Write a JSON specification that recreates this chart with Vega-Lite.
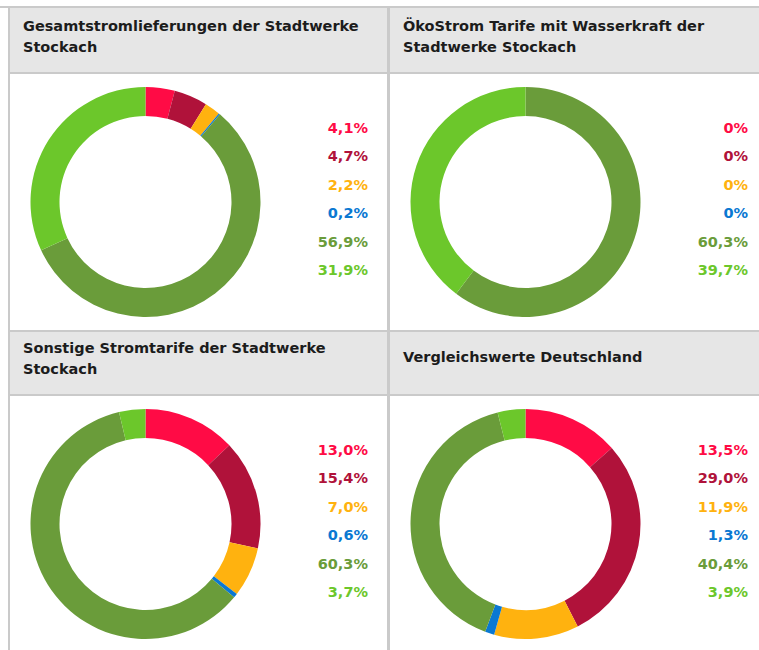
{
  "$schema": "https://vega.github.io/schema/vega-lite/v6.json",
  "background": "#cacaca",
  "padding": 0,
  "autosize": {"type": "pad"},
  "config": {
    "view": {"stroke": null},
    "font": "DejaVu Sans",
    "title": {"anchor": "start", "fontSize": 14.5, "fontWeight": "bold", "color": "#1c1c1c", "lineHeight": 21, "dx": 13}
  },
  "datasets": {
    "d": [
      {"p": 1, "o": 1, "k": "Kernkraft", "v": 4.1, "t": "4,1%"},
      {"p": 1, "o": 2, "k": "Kohle", "v": 4.7, "t": "4,7%"},
      {"p": 1, "o": 3, "k": "Erdgas", "v": 2.2, "t": "2,2%"},
      {"p": 1, "o": 4, "k": "Sonstige fossile Energieträger", "v": 0.2, "t": "0,2%"},
      {"p": 1, "o": 5, "k": "Erneuerbare Energien, gefördert nach EEG", "v": 56.9, "t": "56,9%"},
      {"p": 1, "o": 6, "k": "Sonstige erneuerbare Energien", "v": 31.9, "t": "31,9%"},
      {"p": 2, "o": 1, "k": "Kernkraft", "v": 0, "t": "0%"},
      {"p": 2, "o": 2, "k": "Kohle", "v": 0, "t": "0%"},
      {"p": 2, "o": 3, "k": "Erdgas", "v": 0, "t": "0%"},
      {"p": 2, "o": 4, "k": "Sonstige fossile Energieträger", "v": 0, "t": "0%"},
      {"p": 2, "o": 5, "k": "Erneuerbare Energien, gefördert nach EEG", "v": 60.3, "t": "60,3%"},
      {"p": 2, "o": 6, "k": "Sonstige erneuerbare Energien", "v": 39.7, "t": "39,7%"},
      {"p": 3, "o": 1, "k": "Kernkraft", "v": 13.0, "t": "13,0%"},
      {"p": 3, "o": 2, "k": "Kohle", "v": 15.4, "t": "15,4%"},
      {"p": 3, "o": 3, "k": "Erdgas", "v": 7.0, "t": "7,0%"},
      {"p": 3, "o": 4, "k": "Sonstige fossile Energieträger", "v": 0.6, "t": "0,6%"},
      {"p": 3, "o": 5, "k": "Erneuerbare Energien, gefördert nach EEG", "v": 60.3, "t": "60,3%"},
      {"p": 3, "o": 6, "k": "Sonstige erneuerbare Energien", "v": 3.7, "t": "3,7%"},
      {"p": 4, "o": 1, "k": "Kernkraft", "v": 13.5, "t": "13,5%"},
      {"p": 4, "o": 2, "k": "Kohle", "v": 29.0, "t": "29,0%"},
      {"p": 4, "o": 3, "k": "Erdgas", "v": 11.9, "t": "11,9%"},
      {"p": 4, "o": 4, "k": "Sonstige fossile Energieträger", "v": 1.3, "t": "1,3%"},
      {"p": 4, "o": 5, "k": "Erneuerbare Energien, gefördert nach EEG", "v": 40.4, "t": "40,4%"},
      {"p": 4, "o": 6, "k": "Sonstige erneuerbare Energien", "v": 3.9, "t": "3,9%"}
    ]
  },
  "spacing": 2,
  "vconcat": [
    {
      "width": 762, "height": 6,
      "data": {"values": []},
      "mark": "rect", "encoding": {},
      "view": {"fill": "white"}
    },
    {
      "spacing": 2,
      "hconcat": [
        {
          "width": 8, "height": 644,
          "data": {"values": []},
          "mark": "rect", "encoding": {},
          "view": {"fill": "white"}
        },
        {
          "spacing": 2,
          "vconcat": [
            {
              "spacing": 3,
              "hconcat": [
                {
                  "spacing": 2,
                  "vconcat": [
                    {
                      "width": 377, "height": 64,
                      "data": {"values": []},
                      "mark": "rect", "encoding": {},
                      "view": {"fill": "#e6e6e6"},
                      "title": {"text": ["Gesamtstromlieferungen der Stadtwerke", "Stockach"], "offset": -47}
                    },
                    {
                      "spacing": 0,
                      "hconcat": [
                        {
                          "width": 271, "height": 256,
                          "view": {"fill": "white"},
                          "data": {"name": "d"},
                          "transform": [{"filter": "datum.p == 1"}],
                          "mark": {"type": "arc", "innerRadius": 86, "outerRadius": 115},
                          "encoding": {
                            "theta": {"field": "v", "type": "quantitative", "stack": true},
                            "order": {"field": "o", "type": "quantitative"},
                            "color": {"field": "k", "type": "nominal", "legend": null, "scale": {"domain": ["Kernkraft", "Kohle", "Erdgas", "Sonstige fossile Energieträger", "Erneuerbare Energien, gefördert nach EEG", "Sonstige erneuerbare Energien"], "range": ["#ff0b45", "#b0123a", "#ffb20f", "#0a78d2", "#6a9c3a", "#6cc72b"]}}
                          }
                        },
                        {
                          "width": 106, "height": 256,
                          "view": {"fill": "white"},
                          "data": {"name": "d"},
                          "transform": [{"filter": "datum.p == 1"}],
                          "mark": {"type": "text", "align": "right", "baseline": "middle", "fontSize": 14.5, "fontWeight": "bold", "dx": -19, "dy": -2},
                          "encoding": {
                            "x": {"value": "width"},
                            "y": {"field": "k", "type": "nominal", "axis": null, "scale": {"type": "point", "padding": 1, "domain": ["_oben", "Kernkraft", "Kohle", "Erdgas", "Sonstige fossile Energieträger", "Erneuerbare Energien, gefördert nach EEG", "Sonstige erneuerbare Energien", "_unten"]}},
                            "text": {"field": "t"},
                            "color": {"field": "k", "type": "nominal", "legend": null, "scale": {"domain": ["Kernkraft", "Kohle", "Erdgas", "Sonstige fossile Energieträger", "Erneuerbare Energien, gefördert nach EEG", "Sonstige erneuerbare Energien"], "range": ["#ff0b45", "#b0123a", "#ffb20f", "#0a78d2", "#6a9c3a", "#6cc72b"]}}
                          }
                        }
                      ]
                    }
                  ]
                },
                {
                  "spacing": 2,
                  "vconcat": [
                    {
                      "width": 372, "height": 64,
                      "data": {"values": []},
                      "mark": "rect", "encoding": {},
                      "view": {"fill": "#e6e6e6"},
                      "title": {"text": ["ÖkoStrom Tarife mit Wasserkraft der", "Stadtwerke Stockach"], "offset": -47}
                    },
                    {
                      "spacing": 0,
                      "hconcat": [
                        {
                          "width": 271, "height": 256,
                          "view": {"fill": "white"},
                          "data": {"name": "d"},
                          "transform": [{"filter": "datum.p == 2"}],
                          "mark": {"type": "arc", "innerRadius": 86, "outerRadius": 115},
                          "encoding": {
                            "theta": {"field": "v", "type": "quantitative", "stack": true},
                            "order": {"field": "o", "type": "quantitative"},
                            "color": {"field": "k", "type": "nominal", "legend": null, "scale": {"domain": ["Kernkraft", "Kohle", "Erdgas", "Sonstige fossile Energieträger", "Erneuerbare Energien, gefördert nach EEG", "Sonstige erneuerbare Energien"], "range": ["#ff0b45", "#b0123a", "#ffb20f", "#0a78d2", "#6a9c3a", "#6cc72b"]}}
                          }
                        },
                        {
                          "width": 101, "height": 256,
                          "view": {"fill": "white"},
                          "data": {"name": "d"},
                          "transform": [{"filter": "datum.p == 2"}],
                          "mark": {"type": "text", "align": "right", "baseline": "middle", "fontSize": 14.5, "fontWeight": "bold", "dx": -14, "dy": -2},
                          "encoding": {
                            "x": {"value": "width"},
                            "y": {"field": "k", "type": "nominal", "axis": null, "scale": {"type": "point", "padding": 1, "domain": ["_oben", "Kernkraft", "Kohle", "Erdgas", "Sonstige fossile Energieträger", "Erneuerbare Energien, gefördert nach EEG", "Sonstige erneuerbare Energien", "_unten"]}},
                            "text": {"field": "t"},
                            "color": {"field": "k", "type": "nominal", "legend": null, "scale": {"domain": ["Kernkraft", "Kohle", "Erdgas", "Sonstige fossile Energieträger", "Erneuerbare Energien, gefördert nach EEG", "Sonstige erneuerbare Energien"], "range": ["#ff0b45", "#b0123a", "#ffb20f", "#0a78d2", "#6a9c3a", "#6cc72b"]}}
                          }
                        }
                      ]
                    }
                  ]
                }
              ]
            },
            {
              "spacing": 3,
              "hconcat": [
                {
                  "spacing": 2,
                  "vconcat": [
                    {
                      "width": 377, "height": 62,
                      "data": {"values": []},
                      "mark": "rect", "encoding": {},
                      "view": {"fill": "#e6e6e6"},
                      "title": {"text": ["Sonstige Stromtarife der Stadtwerke", "Stockach"], "offset": -45}
                    },
                    {
                      "spacing": 0,
                      "hconcat": [
                        {
                          "width": 271, "height": 256,
                          "view": {"fill": "white"},
                          "data": {"name": "d"},
                          "transform": [{"filter": "datum.p == 3"}],
                          "mark": {"type": "arc", "innerRadius": 86, "outerRadius": 115},
                          "encoding": {
                            "theta": {"field": "v", "type": "quantitative", "stack": true},
                            "order": {"field": "o", "type": "quantitative"},
                            "color": {"field": "k", "type": "nominal", "legend": null, "scale": {"domain": ["Kernkraft", "Kohle", "Erdgas", "Sonstige fossile Energieträger", "Erneuerbare Energien, gefördert nach EEG", "Sonstige erneuerbare Energien"], "range": ["#ff0b45", "#b0123a", "#ffb20f", "#0a78d2", "#6a9c3a", "#6cc72b"]}}
                          }
                        },
                        {
                          "width": 106, "height": 256,
                          "view": {"fill": "white"},
                          "data": {"name": "d"},
                          "transform": [{"filter": "datum.p == 3"}],
                          "mark": {"type": "text", "align": "right", "baseline": "middle", "fontSize": 14.5, "fontWeight": "bold", "dx": -19, "dy": -2},
                          "encoding": {
                            "x": {"value": "width"},
                            "y": {"field": "k", "type": "nominal", "axis": null, "scale": {"type": "point", "padding": 1, "domain": ["_oben", "Kernkraft", "Kohle", "Erdgas", "Sonstige fossile Energieträger", "Erneuerbare Energien, gefördert nach EEG", "Sonstige erneuerbare Energien", "_unten"]}},
                            "text": {"field": "t"},
                            "color": {"field": "k", "type": "nominal", "legend": null, "scale": {"domain": ["Kernkraft", "Kohle", "Erdgas", "Sonstige fossile Energieträger", "Erneuerbare Energien, gefördert nach EEG", "Sonstige erneuerbare Energien"], "range": ["#ff0b45", "#b0123a", "#ffb20f", "#0a78d2", "#6a9c3a", "#6cc72b"]}}
                          }
                        }
                      ]
                    }
                  ]
                },
                {
                  "spacing": 2,
                  "vconcat": [
                    {
                      "width": 372, "height": 62,
                      "data": {"values": []},
                      "mark": "rect", "encoding": {},
                      "view": {"fill": "#e6e6e6"},
                      "title": {"text": "Vergleichswerte Deutschland", "offset": -33}
                    },
                    {
                      "spacing": 0,
                      "hconcat": [
                        {
                          "width": 271, "height": 256,
                          "view": {"fill": "white"},
                          "data": {"name": "d"},
                          "transform": [{"filter": "datum.p == 4"}],
                          "mark": {"type": "arc", "innerRadius": 86, "outerRadius": 115},
                          "encoding": {
                            "theta": {"field": "v", "type": "quantitative", "stack": true},
                            "order": {"field": "o", "type": "quantitative"},
                            "color": {"field": "k", "type": "nominal", "legend": null, "scale": {"domain": ["Kernkraft", "Kohle", "Erdgas", "Sonstige fossile Energieträger", "Erneuerbare Energien, gefördert nach EEG", "Sonstige erneuerbare Energien"], "range": ["#ff0b45", "#b0123a", "#ffb20f", "#0a78d2", "#6a9c3a", "#6cc72b"]}}
                          }
                        },
                        {
                          "width": 101, "height": 256,
                          "view": {"fill": "white"},
                          "data": {"name": "d"},
                          "transform": [{"filter": "datum.p == 4"}],
                          "mark": {"type": "text", "align": "right", "baseline": "middle", "fontSize": 14.5, "fontWeight": "bold", "dx": -14, "dy": -2},
                          "encoding": {
                            "x": {"value": "width"},
                            "y": {"field": "k", "type": "nominal", "axis": null, "scale": {"type": "point", "padding": 1, "domain": ["_oben", "Kernkraft", "Kohle", "Erdgas", "Sonstige fossile Energieträger", "Erneuerbare Energien, gefördert nach EEG", "Sonstige erneuerbare Energien", "_unten"]}},
                            "text": {"field": "t"},
                            "color": {"field": "k", "type": "nominal", "legend": null, "scale": {"domain": ["Kernkraft", "Kohle", "Erdgas", "Sonstige fossile Energieträger", "Erneuerbare Energien, gefördert nach EEG", "Sonstige erneuerbare Energien"], "range": ["#ff0b45", "#b0123a", "#ffb20f", "#0a78d2", "#6a9c3a", "#6cc72b"]}}
                          }
                        }
                      ]
                    }
                  ]
                }
              ]
            }
          ]
        }
      ]
    }
  ]
}
